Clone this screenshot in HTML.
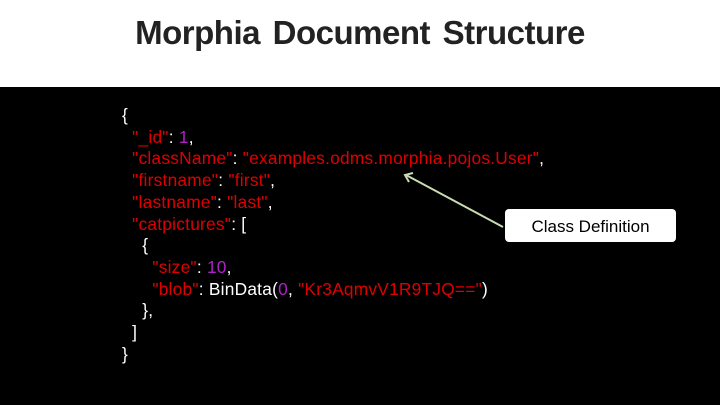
<!DOCTYPE html>
<html><head><style>
body{margin:0;width:720px;height:405px;overflow:hidden;background:#000;font-family:"Liberation Sans",sans-serif}
.hdr{position:absolute;left:0;top:0;width:720px;height:87px;background:#fff}
.t{position:absolute;left:0;width:720px;top:14px;text-align:center;font-weight:bold;font-size:33px;color:#222;letter-spacing:-0.5px;word-spacing:4px}
.code{position:absolute;left:122px;top:105px;font-size:17.3px;line-height:21.7px;color:#fff;white-space:pre;letter-spacing:0.25px}
.r{color:#e00000}.p{color:#b020c8}
.box{position:absolute;left:505px;top:209px;width:171px;height:33px;background:#fff;border-radius:4px;font-size:17px;line-height:35px;text-align:center;color:#000}
</style></head><body>
<div class="hdr"><div class="t">Morphia Document Structure</div></div>
<div class="code">{
  <span class="r">"_id"</span>: <span class="p">1</span>,
  <span class="r">"className"</span>: <span class="r">"examples.odms.morphia.pojos.User"</span>,
  <span class="r">"firstname"</span>: <span class="r">"first"</span>,
  <span class="r">"lastname"</span>: <span class="r">"last"</span>,
  <span class="r">"catpictures"</span>: [
    {
      <span class="r">"size"</span>: <span class="p">10</span>,
      <span class="r">"blob"</span>: BinData(<span class="p">0</span>, <span class="r">"Kr3AqmvV1R9TJQ=="</span>)
    },
  ]
}</div>
<svg style="position:absolute;left:0;top:0" width="720" height="405">
<line x1="503" y1="227" x2="406" y2="175" stroke="#c8dcb0" stroke-width="2"/>
<polyline points="413,173 405,175 409,182" fill="none" stroke="#c8dcb0" stroke-width="2"/>
</svg>
<div class="box">Class Definition</div>
</body></html>
